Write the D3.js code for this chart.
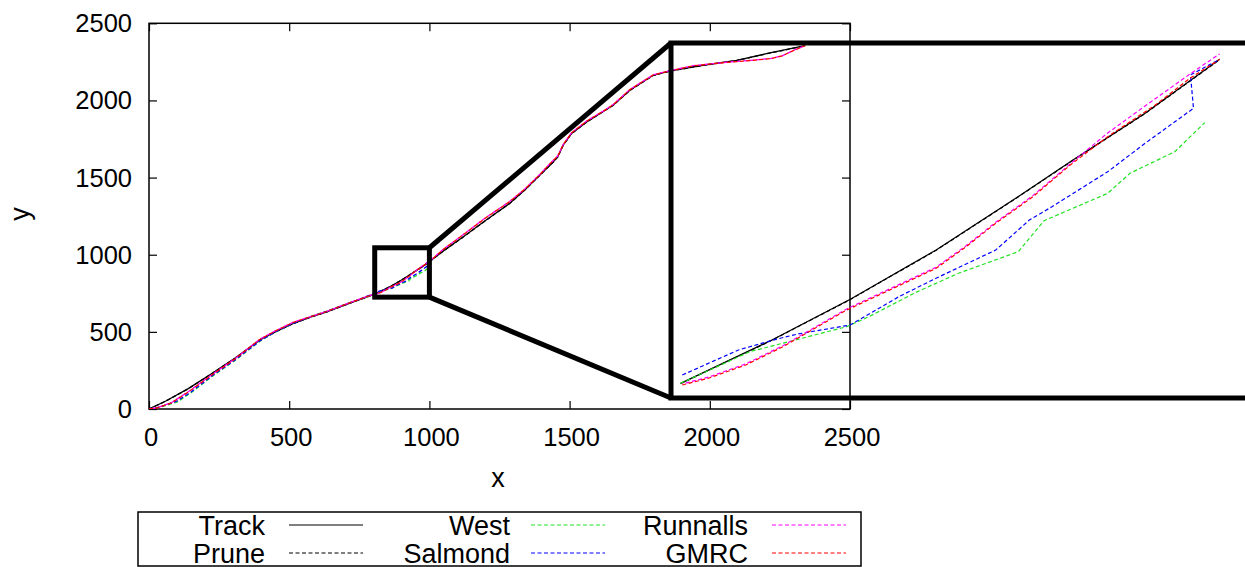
<!DOCTYPE html>
<html><head><meta charset="utf-8">
<script src="https://cdnjs.cloudflare.com/ajax/libs/d3/7.8.5/d3.min.js"></script>
<style>
html,body{margin:0;padding:0;background:#fff;}
svg{display:block;font-family:"Liberation Sans",Arial,sans-serif;}
</style></head>
<body>
<svg id="chart" width="1245" height="567"></svg>
<script>
// ---------- data ----------
const xTicks = [0, 500, 1000, 1500, 2000, 2500];
const yTicks = [0, 500, 1000, 1500, 2000, 2500];
const seriesNames = ["Track", "Prune", "West", "Salmond", "Runnalls", "GMRC"];
const seriesColors = ["#000000", "#000000", "#22e022", "#0000ff", "#ff00ff", "#ff0000"];

const track = [[0,0],[60,52],[140,132],[220,225],[307,330],[396,449],[450,500],[515,555],[580,598],[634,630],[692,670],[729,695],[770,722],
  [803.5,744.5],[836.7,772.6],[865.2,799],[896.4,830.9],[926.2,865.4],[945.2,888.1],[972.4,919.5],[999.5,954.4],
  [1050,1025],[1121,1116],[1200,1222],[1287,1334],[1340,1420],[1394,1516],[1440,1598],[1458,1635],[1477,1710],[1507,1786],
  [1561,1861],[1655,1969],[1715,2066],[1798,2163],[1858,2191],[1976,2228],[2096,2260],[2214,2308],[2340,2355]];

const prune = [[0,0],[60,51],[140,131],[220,224],[307,329],[396,448],[450,499],[515,554],[580,597],[634,629],[692,669],[729,694],[770,721],
  [803.5,744.3],[836.7,772.4],[865.2,798.8],[896.4,830.7],[926.2,865.2],[945.2,887.9],[972.4,919.3],[999.5,954.2],
  [1050,1024],[1121,1115],[1200,1221],[1287,1333],[1340,1419],[1394,1515],[1440,1597],[1458,1634],[1477,1709],[1507,1785],
  [1561,1860],[1655,1968],[1715,2065],[1798,2162],[1858,2190],[1976,2227],[2096,2259],[2214,2307],[2340,2354]];

const west = [[0,0],[40,12],[100,45],[150,105],[230,218],[307,315],[396,440],[450,498],[515,558],[580,602],[634,634],[692,674],[729,698],[770,722],
  [803.5,744.5],[828.6,765.0],[838.1,769.3],[863.9,781.2],[872.0,787.7],[888.3,802.8],[904.5,815.8],[926.3,829.8],[935.7,849.9],
  [958.8,867.6],[966.9,880.6],[983.2,894.6],[994.1,913.4]];

const salmond = [[0,0],[40,14],[100,52],[150,110],[230,222],[307,318],[396,442],[450,500],[515,556],[580,600],[634,633],[692,672],[729,697],[770,725],
  [804.1,749.9],[824.5,766.1],[838.1,773.0],[846.2,776.5],[865.2,782.3],[882.8,800.6],[896.4,812.6],[918.1,830.9],[930.3,850.3],
  [938.5,858.9],[958.8,881.6],[972.4,900.0],[990.0,922.7],[988.9,944.3],[999.5,954.4]];

const runnalls = [[0,0],[30,9],[80,41],[140,112],[220,217],[307,327],[396,453],[450,506],[515,563],[580,601],[634,633],[692,673],[729,698],[770,725],
  [804.1,744.1],[813.6,748.5],[827.2,757.1],[840.7,768.9],[863.9,792.7],[896.4,819.7],[907.3,833.7],[918.1,848.9],[931.6,866.1],
  [945.2,886.7],[958.8,906.7],[972.4,924.2],[988.7,944.9],[999.5,957.9],
  [1050,1036],[1121,1131],[1200,1239],[1287,1346],[1340,1426],[1394,1521],[1430,1591],[1458,1641],[1477,1713],[1507,1791],
  [1561,1867],[1620,1931],[1655,1973],[1715,2071],[1798,2166],[1858,2193],[1940,2225],[2050,2246],[2166,2263],[2220,2273],[2260,2291],[2300,2326],[2340,2356]];

const gmrc = [[0,0],[30,8],[80,40],[140,110],[220,215],[307,325],[396,452],[450,505],[515,562],[580,600],[634,632],[692,672],[729,697],[770,724],
  [804.1,743.4],[813.6,747.8],[827.2,756.4],[840.7,768.2],[863.9,792.0],[896.4,819.0],[907.3,833.0],[918.1,848.2],[931.6,865.4],
  [945.2,886.0],[958.8,904.3],[976.1,924.8],[988.7,942.1],[999.5,954.4],
  [1050,1035],[1121,1130],[1200,1238],[1287,1345],[1340,1425],[1394,1520],[1430,1590],[1458,1640],[1477,1712],[1507,1790],
  [1561,1866],[1620,1930],[1655,1972],[1715,2070],[1798,2165],[1858,2192],[1940,2224],[2050,2245],[2166,2262],[2220,2272],[2260,2290],[2300,2325],[2340,2355]];

const zoomBoxX = [805, 1000];
const zoomBoxY = [725, 1045];
const insetX = [800, 1020];
const insetY = [735, 965];

// ---------- layout ----------
const svg = d3.select("#chart");
const FS = 25.5;
const LFS = 27;
const x = d3.scaleLinear().domain([0, 2500]).range([149, 850]);
const y = d3.scaleLinear().domain([0, 2500]).range([409, 23.3]);
const xi = d3.scaleLinear().domain(insetX).range([671, 1276]);
const yi = d3.scaleLinear().domain(insetY).range([398, 43]);

const allSeries = [track, prune, west, salmond, runnalls, gmrc];
const dashes = [null, "4,2.5", "4,2.5", "4,2.5", "4,2.5", "4,2.5"];
const offsets = [0, 0, 0, 0, 3, 0];

const defs = svg.append("defs");
defs.append("clipPath").attr("id", "clipMain").append("rect")
  .attr("x", 149).attr("y", 23.3).attr("width", 701).attr("height", 385.7);
defs.append("clipPath").attr("id", "clipInset").append("rect")
  .attr("x", 671).attr("y", 43).attr("width", 605).attr("height", 355);

// main axes: ticks inward, mirrored
const gAx = svg.append("g");
const xAxB = d3.axisBottom(x).tickValues(xTicks).tickSize(-8).tickFormat("");
const xAxT = d3.axisTop(x).tickValues(xTicks).tickSize(-8).tickFormat("");
const yAxL = d3.axisLeft(y).tickValues(yTicks).tickSize(-8).tickFormat("");
const yAxR = d3.axisRight(y).tickValues(yTicks).tickSize(-8).tickFormat("");
gAx.append("g").attr("transform", "translate(0,409)").call(xAxB);
gAx.append("g").attr("transform", "translate(0,23.3)").call(xAxT);
gAx.append("g").attr("transform", "translate(149,0)").call(yAxL);
gAx.append("g").attr("transform", "translate(850,0)").call(yAxR);
gAx.selectAll(".domain").remove();
gAx.selectAll(".tick line").attr("stroke", "#000").attr("stroke-width", 1.2);
svg.append("rect").attr("x", 149).attr("y", 23.3).attr("width", 701).attr("height", 385.7)
  .attr("fill", "none").attr("stroke", "#000").attr("stroke-width", 1.5);

// tick labels
svg.append("g").selectAll("text").data(xTicks).join("text")
  .attr("x", d => x(d) + 2).attr("y", 446).attr("text-anchor", "middle")
  .attr("font-size", FS).text(d => d);
svg.append("g").selectAll("text").data(yTicks).join("text")
  .attr("x", 132).attr("y", d => y(d) + 9).attr("text-anchor", "end")
  .attr("font-size", FS).text(d => d);
svg.append("text").attr("x", 498).attr("y", 487).attr("text-anchor", "middle").attr("font-size", LFS).text("x");
svg.append("text").attr("transform", "translate(29,214) rotate(-90)").attr("text-anchor", "middle")
  .attr("font-size", LFS).text("y");

// main lines
const lineMain = d3.line().x(d => x(d[0])).y(d => y(d[1]));
const gMain = svg.append("g").attr("clip-path", "url(#clipMain)");
allSeries.forEach((s, i) => {
  gMain.append("path").attr("d", lineMain(s)).attr("fill", "none")
    .attr("stroke", seriesColors[i]).attr("stroke-width", 1.3)
    .attr("stroke-dasharray", dashes[i]).attr("stroke-dashoffset", offsets[i]);
});

// inset lines
const lineIn = d3.line().x(d => xi(d[0])).y(d => yi(d[1]));
const gIn = svg.append("g").attr("clip-path", "url(#clipInset)");
allSeries.forEach((s, i) => {
  const pts = s.filter(d => d[0] >= insetX[0] && d[0] <= insetX[1]);
  gIn.append("path").attr("d", lineIn(pts)).attr("fill", "none")
    .attr("stroke", seriesColors[i]).attr("stroke-width", 1.2)
    .attr("stroke-dasharray", dashes[i]).attr("stroke-dashoffset", offsets[i]);
});

// zoom box, connectors, inset frame
const thick = 5;
svg.append("rect").attr("x", x(zoomBoxX[0])).attr("y", y(zoomBoxY[1]))
  .attr("width", x(zoomBoxX[1]) - x(zoomBoxX[0])).attr("height", y(zoomBoxY[0]) - y(zoomBoxY[1]))
  .attr("fill", "none").attr("stroke", "#000").attr("stroke-width", thick);
svg.append("line").attr("x1", x(zoomBoxX[1])).attr("y1", y(zoomBoxY[1]))
  .attr("x2", xi(insetX[0])).attr("y2", yi(insetY[1])).attr("stroke", "#000").attr("stroke-width", thick);
svg.append("line").attr("x1", x(zoomBoxX[1])).attr("y1", y(zoomBoxY[0]))
  .attr("x2", xi(insetX[0])).attr("y2", yi(insetY[0])).attr("stroke", "#000").attr("stroke-width", thick);
svg.append("rect").attr("x", xi(insetX[0])).attr("y", yi(insetY[1]))
  .attr("width", xi(insetX[1]) - xi(insetX[0])).attr("height", yi(insetY[0]) - yi(insetY[1]))
  .attr("fill", "none").attr("stroke", "#000").attr("stroke-width", thick);

// legend
const leg = svg.append("g");
leg.append("rect").attr("x", 138).attr("y", 512).attr("width", 723).attr("height", 54)
  .attr("fill", "none").attr("stroke", "#000").attr("stroke-width", 1.5);
const colTextEnd = [265, 510, 748];
const colLineStart = [289, 531, 772];
const rowY = [525, 553];
seriesNames.forEach((n, i) => {
  const col = Math.floor(i / 2), row = i % 2;
  leg.append("text").attr("x", colTextEnd[col]).attr("y", rowY[row] + 9.5).attr("text-anchor", "end")
    .attr("font-size", LFS).text(n);
  leg.append("line").attr("x1", colLineStart[col]).attr("x2", colLineStart[col] + 74)
    .attr("y1", rowY[row]).attr("y2", rowY[row])
    .attr("stroke", seriesColors[i]).attr("stroke-width", 1.2).attr("stroke-dasharray", dashes[i]);
});
</script>
</body></html>
